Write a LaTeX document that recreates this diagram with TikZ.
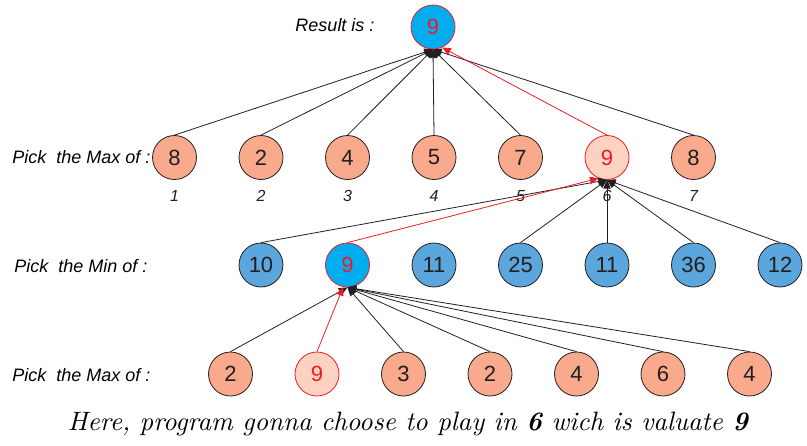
\documentclass[tikz,border=0pt]{standalone}
\usepackage{fontspec}
\setsansfont{Liberation Sans}
\usetikzlibrary{arrows.meta}

\definecolor{salmon}{RGB}{249,169,140}
\definecolor{paleSalmon}{RGB}{253,210,192}
\definecolor{skyblue}{RGB}{91,166,220}
\definecolor{cyanfill}{RGB}{0,174,239}
\definecolor{hotred}{RGB}{237,28,36}
\definecolor{edgegray}{RGB}{35,31,32}

\tikzset{
  val/.style={circle, minimum size=33pt, inner sep=0pt, draw=edgegray, line width=0.6pt,
    font=\sffamily\fontsize{16.5}{16.5}\selectfont, text=edgegray},
  maxval/.style={val, fill=salmon},
  minval/.style={val, fill=skyblue},
  chosenmax/.style={val, fill=paleSalmon, draw=hotred, text=hotred},
  chosenmin/.style={val, fill=cyanfill, draw=hotred, text=hotred},
  rowlabel/.style={anchor=west, inner sep=0pt, font=\sffamily\itshape\fontsize{13.5}{13.5}\selectfont},
  idx/.style={inner sep=0pt, font=\sffamily\itshape\fontsize{12}{12}\selectfont, text=edgegray},
  link/.style={draw=edgegray, line width=0.6pt, -{Triangle[length=6.5pt,width=5.5pt]}},
  bestlink/.style={draw=hotred, line width=0.6pt, -{Triangle[length=6.5pt,width=5.5pt]}},
}

\begin{document}
\begin{tikzpicture}[x=0.75pt,y=-0.75pt]
\useasboundingbox (0,0) rectangle (807,446);

% result
\node[rowlabel, anchor=center] (reslbl) at (335,25) {Result is :};
\node[chosenmin] (top) at (433,27) {9};

% first level: maximise
\node[rowlabel] (lblA) at (12,157.5) {Pick\ \ the Max of :};
\foreach \v [count=\i] in {8,2,4,5,7,9,8}{
  \ifnum\i=6
    \node[chosenmax] (a\i) at ({174.5+86.5*(\i-1)},157.5) {\v};
  \else
    \node[maxval] (a\i) at ({174.5+86.5*(\i-1)},157.5) {\v};
  \fi
  \node[idx] (n\i) at ({174.5+86.5*(\i-1)},196) {\i};
}

% second level: minimise
\node[rowlabel] (lblB) at (14,266) {Pick\ \ the Min of :};
\foreach \v [count=\i] in {10,9,11,25,11,36,12}{
  \ifnum\i=2
    \node[chosenmin] (b\i) at ({261+86.5*(\i-1)},265) {\v};
  \else
    \node[minval] (b\i) at ({261+86.5*(\i-1)},265) {\v};
  \fi
}

% third level: maximise
\node[rowlabel] (lblC) at (12,375) {Pick\ \ the Max of :};
\foreach \v [count=\i] in {2,9,3,2,4,6,4}{
  \ifnum\i=2
    \node[chosenmax] (c\i) at ({230.5+86.5*(\i-1)},374) {\v};
  \else
    \node[maxval] (c\i) at ({230.5+86.5*(\i-1)},374) {\v};
  \fi
}

% connectors
\foreach \i in {1,2,3,4,5,7}{ \draw[link] (a\i.north) -- (top.south); }
\draw[bestlink] (a6.north) -- (top.-66);

\foreach \i in {1,4,5,6,7}{ \draw[link] (b\i.north) -- (a6.south); }
\draw[bestlink] (b2.north) -- (a6.-112);

\foreach \i in {1,3,4,5,6,7}{ \draw[link] (c\i.north) -- (b2.south); }
\draw[bestlink] (c2.north) -- (b2.-101);

% conclusion
\node[inner sep=0pt] (note) at (408,424)
  {\resizebox{510pt}{!}{\itshape\fontsize{10}{12}\selectfont Here, program gonna choose to play in \textbf{6} wich is valuate \textbf{9}}};
\end{tikzpicture}
\end{document}
